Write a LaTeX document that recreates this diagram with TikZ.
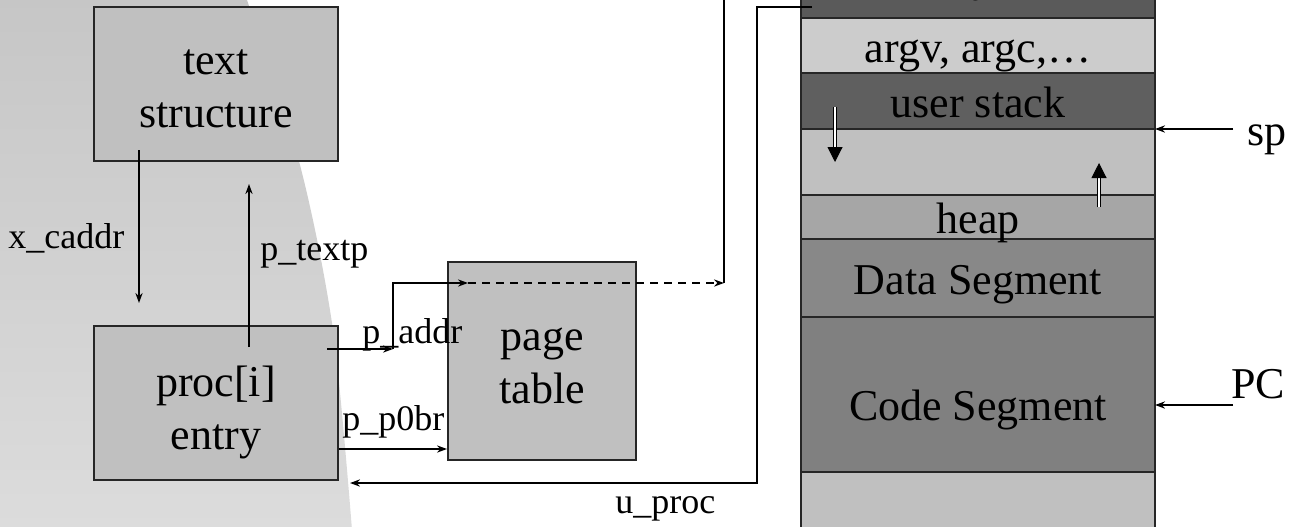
\documentclass[tikz,border=0pt]{standalone}
\usepackage{fontspec}
\setmainfont{Liberation Serif}
\usetikzlibrary{arrows.meta}

\definecolor{boxgray}{HTML}{C0C0C0}
\definecolor{bgtop}{HTML}{C6C6C6}
\definecolor{bgbottom}{HTML}{DCDCDC}
\definecolor{topband}{HTML}{5A5A5A}
\definecolor{argvband}{HTML}{CCCCCC}
\definecolor{stackband}{HTML}{5F5F5F}
\definecolor{gapband}{HTML}{C0C0C0}
\definecolor{heapband}{HTML}{A6A6A6}
\definecolor{databand}{HTML}{888888}
\definecolor{codeband}{HTML}{808080}
\definecolor{lowband}{HTML}{C0C0C0}

\tikzset{
  box/.style={draw=black!85, line width=1pt, fill=boxgray, inner sep=0pt},
  boxtext/.style={align=center, font=\fontsize{22}{26.5}\selectfont, inner sep=0pt},
  band/.style={draw=black!85, line width=0.6pt, minimum width=177pt,
    inner sep=0pt, outer sep=0pt},
  bandtext/.style={font=\fontsize{22}{26}\selectfont, inner sep=0pt, anchor=base},
  lbl/.style={font=\fontsize{18}{21}\selectfont, inner sep=0pt, anchor=base west},
  wire/.style={line width=0.75pt},
  link/.style={wire, -{Stealth[length=5pt,width=3.6pt]}},
  growth/.style={line width=0.5pt, double, double distance=1.3pt,
    -{Triangle[length=7.5pt,width=7.5pt]}},
}

\begin{document}
\begin{tikzpicture}[x=0.5pt,y=-0.5pt]
\useasboundingbox (0,0) rectangle (1309,526);
\clip (0,0) rectangle (1309,526);

% shaded backdrop on the left
\shade[top color=bgtop, bottom color=bgbottom]
  (0,-5) -- (245,-5) -- plot[smooth] coordinates {(247,0) (300,165) (333,330) (352,530)}
  -- (0,530) -- cycle;

% kernel structures
\node[box, minimum width=122pt, minimum height=77pt] (text) at (216,84) {};
\node[box, minimum width=122pt, minimum height=77pt] (proc) at (216,403) {};
\node[box, minimum width=94pt, minimum height=99pt] (page) at (542,361) {};
\node[boxtext] (texttxt) at (216,89) {text\\structure};
\node[boxtext] (proctxt) at (216,412) {proc[i]\\entry};
\node[boxtext] (pagetxt) at (542,366) {page\\table};

% process address space
\node[band, fill=topband,   minimum height=25pt] (uarea) at (978,-7) {};
\node[band, fill=argvband,  minimum height=27.5pt] (argv)  at (978,45.5) {};
\node[band, fill=stackband, minimum height=28pt] (ustack) at (978,101) {};
\node[band, fill=gapband,   minimum height=33pt] (gap)   at (978,162) {};
\node[band, fill=heapband,  minimum height=22pt] (heap)  at (978,217) {};
\node[band, fill=databand,  minimum height=39pt] (data)  at (978,278) {};
\node[band, fill=codeband,  minimum height=77.5pt] (code) at (978,394.5) {};
\node[band, fill=lowband,   minimum height=36pt] (low)   at (978,508) {};

\node[bandtext] (uareatxt) at (978,0) {u};
\node[bandtext] (argvtxt) at (978,62) {argv, argc,…};
\node[bandtext] (ustacktxt) at (978,117) {user stack};
\node[bandtext] (heaptxt) at (978,233) {heap};
\node[bandtext] (datatxt) at (978,294) {Data Segment};
\node[bandtext] (codetxt) at (978,420) {Code Segment};

% growth directions of stack and heap
\coordinate (sdown1) at (835,107);
\coordinate (sdown2) at (835,162);
\coordinate (hup1) at (1099,207);
\coordinate (hup2) at (1099,163);
\draw[growth] (sdown1) -- (sdown2);
\draw[growth] (hup1) -- (hup2);

% x_caddr and p_textp
\coordinate (xc1) at (139,150);
\coordinate (xc2) at (139,303);
\draw[link] (xc1) -- (xc2);
\node[lbl] (xcaddr) at (8,248) {x\_caddr};

\coordinate (pt1) at (249,347);
\coordinate (pt2) at (249,184);
\draw[link] (pt1) -- (pt2);
\node[lbl] (ptextp) at (260,260) {p\_textp};

% p_addr through the page table into the address space
\coordinate (pa1) at (327,349);
\coordinate (pa2) at (393,349);
\coordinate (pa3) at (468,283);
\coordinate (pa4) at (724,283);
\coordinate (pa5) at (724,-10);
\draw[link] (pa1) -- (pa2);
\draw[link] (pa2) |- (pa3);
\draw[link, dash pattern=on 4pt off 3pt] (pa3) -- (pa4);
\draw[wire] (pa4) -- (pa5);
\node[lbl] (paddr) at (362,343) {p\_addr};

% p_p0br
\coordinate (pp) at (0,449);
\draw[link] (proc.east |- pp) -- (page.west |- pp);
\node[lbl] (pp0br) at (342,430) {p\_p0br};

% u_proc back to the proc entry
\coordinate (up1) at (812,7);
\coordinate (up2) at (757,7);
\coordinate (up3) at (757,483);
\coordinate (up4) at (350,483);
\draw[link] (up1) -- (up2) -- (up3) -- (up4);
\node[lbl] (uproc) at (615,513) {u\_proc};

% sp and PC pointers
\coordinate (spt) at (1233,129);
\draw[link] (spt) -- (spt -| gap.east);
\node[bandtext, anchor=base west] (sp) at (1247,145) {sp};

\coordinate (pct) at (1233,405);
\draw[link] (pct) -- (pct -| code.east);
\node[bandtext, anchor=base west] (pc) at (1231,398) {PC};
\end{tikzpicture}
\end{document}
